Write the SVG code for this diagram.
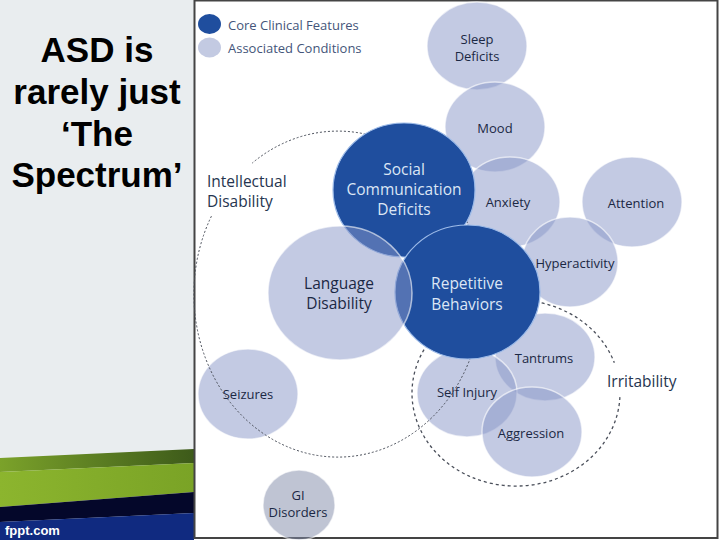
<svg xmlns="http://www.w3.org/2000/svg" width="720" height="540" viewBox="0 0 720 540">
  <style>
    .light { fill: #8796c8; fill-opacity: 0.5; stroke: #ffffff; stroke-opacity: 0.6; stroke-width: 1.5; }
    .dark { fill: #1f4e9e; stroke: #9dbbe8; stroke-width: 1.2; }
    .lbl { font-family: "Open Sans", "Liberation Sans", sans-serif; fill: #1b2844; text-anchor: middle; }
    .s13 { font-size: 13px; }
    .s15 { font-size: 15.5px; }
    .core { font-family: "Open Sans", "Liberation Sans", sans-serif; font-size: 15.5px; fill: #dce6f5; text-anchor: middle; }
    .grp { font-family: "Open Sans", "Liberation Sans", sans-serif; font-size: 15.5px; fill: #26354f; }
    .leg { font-family: "Open Sans", "Liberation Sans", sans-serif; font-size: 13px; fill: #44557a; }
    .title { font-family: "Liberation Sans", Arial, sans-serif; font-weight: bold; font-size: 35px; fill: #000; text-anchor: middle; }
    .dash1 { fill: none; stroke: #4a4f5a; stroke-width: 1; stroke-dasharray: 2 2; }
    .dash2 { fill: none; stroke: #4a4f5a; stroke-width: 1.3; stroke-dasharray: 3 3; }
  </style>
  <defs>
    <linearGradient id="gDark" x1="0" y1="0" x2="1" y2="0">
      <stop offset="0" stop-color="#7ba22a"/>
      <stop offset="1" stop-color="#3d5a1a"/>
    </linearGradient>
    <linearGradient id="gBright" x1="0" y1="0" x2="1" y2="0">
      <stop offset="0" stop-color="#8cb52e"/>
      <stop offset="1" stop-color="#7aa326"/>
    </linearGradient>
  </defs>

  <!-- left slide panel -->
  <rect x="0" y="0" width="194" height="540" fill="#e9edef"/>
  <polygon points="0,458 194,449 194,463 0,472" fill="url(#gDark)"/>
  <polygon points="0,472 194,463 194,492 0,507" fill="url(#gBright)"/>
  <polygon points="0,507 194,492 194,513 0,522" fill="#04072a"/>
  <polygon points="0,522 194,513 194,540 0,540" fill="#102a80"/>
  <text x="5" y="535" font-family="Liberation Sans, Arial, sans-serif" font-size="13" font-weight="bold" fill="#ffffff">fppt.com</text>

  <g id="title">
    <text class="title" x="97" y="62">ASD is</text>
    <text class="title" x="97" y="104">rarely just</text>
    <text class="title" x="97" y="146">‘The</text>
    <text class="title" x="97" y="187">Spectrum’</text>
  </g>

  <!-- image panel -->
  <rect x="194.5" y="0.5" width="523" height="537.5" fill="#ffffff" stroke="#444444" stroke-width="2"/>

  <g id="legend">
    <ellipse cx="209.5" cy="24" rx="11.5" ry="10" fill="#1f4e9e"/>
    <ellipse cx="209.5" cy="47.5" rx="11.5" ry="10" fill="#c3cae2"/>
    <text class="leg" x="228" y="29.5">Core Clinical Features</text>
    <text class="leg" x="228" y="53">Associated Conditions</text>
  </g>

  <g id="sleep"><ellipse class="light" cx="477" cy="46" rx="50" ry="44"/></g>
  <g id="mood"><ellipse class="light" cx="495" cy="127" rx="50" ry="45"/></g>
  <g id="anxiety"><ellipse class="light" cx="510" cy="202" rx="50" ry="45"/></g>
  <g id="attention"><ellipse class="light" cx="632" cy="202" rx="50" ry="45"/></g>
  <g id="hyperactivity"><ellipse class="light" cx="570" cy="262" rx="48" ry="45"/></g>
  <g id="tantrums"><ellipse class="light" cx="545" cy="357" rx="50" ry="44"/></g>
  <g id="selfinjury"><ellipse class="light" cx="467" cy="393" rx="50" ry="44"/></g>
  <g id="aggression"><ellipse class="light" cx="532" cy="432" rx="50" ry="45"/></g>
  <g id="seizures"><ellipse class="light" cx="248" cy="394" rx="50" ry="45"/></g>
  <g id="gi"><ellipse class="light" cx="299" cy="505" rx="36" ry="35" style="fill:#7f8aa8"/></g>

  <g id="connectors">
    <path id="intellectual-outline" class="dash1" d="M 211.4 216.2 A 144 163 0 1 0 252.2 163.1"/>
    <path id="irritability-outline" class="dash2" d="M 619.9 397.1 A 104 93 0 1 1 614.3 362.7"/>
  </g>

  <g id="social"><ellipse class="dark" cx="404" cy="190" rx="71" ry="67"/></g>
  <g id="repetitive"><ellipse class="dark" cx="467.5" cy="292" rx="72.5" ry="67"/></g>
  <g id="language"><ellipse class="light" cx="340" cy="293" rx="72" ry="67"/></g>

  <g id="labels">
    <text class="lbl s13" x="477" y="44">Sleep</text>
    <text class="lbl s13" x="477" y="61">Deficits</text>
    <text class="lbl s13" x="495" y="133">Mood</text>
    <text class="lbl s13" x="508" y="207">Anxiety</text>
    <text class="lbl s13" x="636" y="208">Attention</text>
    <text class="lbl s13" x="575" y="268">Hyperactivity</text>
    <text class="lbl s13" x="544" y="363">Tantrums</text>
    <text class="lbl s13" x="467" y="397">Self Injury</text>
    <text class="lbl s13" x="531" y="438">Aggression</text>
    <text class="lbl s13" x="248" y="399">Seizures</text>
    <text class="lbl s13" x="298" y="499.5">GI</text>
    <text class="lbl s13" x="298" y="517">Disorders</text>
    <text class="core" x="404" y="175">Social</text>
    <text class="core" x="404" y="195">Communication</text>
    <text class="core" x="404" y="215">Deficits</text>
    <text class="core" x="467" y="289">Repetitive</text>
    <text class="core" x="467" y="310">Behaviors</text>
    <text class="lbl s15" x="339" y="289">Language</text>
    <text class="lbl s15" x="339" y="309">Disability</text>
    <text class="grp" x="207" y="187">Intellectual</text>
    <text class="grp" x="207" y="207">Disability</text>
    <text class="grp" x="607" y="387" font-size="16">Irritability</text>
  </g>
</svg>
